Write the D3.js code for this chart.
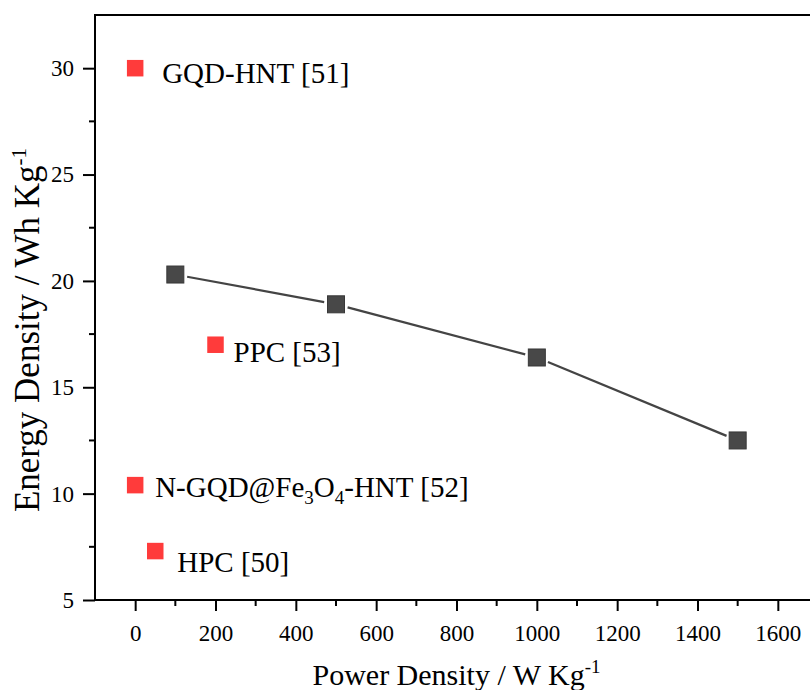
<!DOCTYPE html>
<html><head><meta charset="utf-8">
<script src="https://cdn.jsdelivr.net/npm/d3@7"></script>
<style>
html,body{margin:0;padding:0;background:#fff;}
svg{display:block;}
svg text{font-family:"Liberation Serif","DejaVu Serif",serif !important;fill:#000;}
</style></head>
<body>
<svg id="chart" width="810" height="690"></svg>
<script>
// ---- data ----
const seriesPower = [100, 500, 1000, 1500];
const seriesEnergy = [20.3, 18.9, 16.4, 12.5];
const refNames = ["GQD-HNT [51]", "PPC [53]", "N-GQD@Fe3O4-HNT [52]", "HPC [50]"];
const refPower = [0, 200, 0, 50];
const refEnergy = [30, 17, 10.4, 7.3];
const xTicks = [0, 200, 400, 600, 800, 1000, 1200, 1400, 1600];
const yTicks = [5, 10, 15, 20, 25, 30];
const xTitle = "Power Density / W Kg";
const yTitle = "Energy Density / Wh Kg";

// ---- layout ----
const svg = d3.select("#chart");
const L = 95, T = 15, B = 600, R = 818;
const x = d3.scaleLinear().domain([-100, 1700]).range([L, R]);
const y = d3.scaleLinear().domain([5, 32.5]).range([B, T]);
const serif = "'Liberation Serif', 'DejaVu Serif', serif";

// frame (top/right border)
svg.append("rect").attr("x", L).attr("y", T).attr("width", R - L).attr("height", B - T)
  .attr("fill", "none").attr("stroke", "#000").attr("stroke-width", 2);

// minor ticks
const xMinor = d3.range(-100, 1701, 100).filter(v => !xTicks.includes(v) && v > -100 && v < 1700);
const yMinor = d3.range(7.5, 32.5, 5);
svg.append("g").selectAll("line").data(xMinor).join("line")
  .attr("x1", d => x(d)).attr("x2", d => x(d)).attr("y1", B).attr("y2", B + 6)
  .attr("stroke", "#000").attr("stroke-width", 2);
svg.append("g").selectAll("line").data(yMinor).join("line")
  .attr("y1", d => y(d)).attr("y2", d => y(d)).attr("x1", L).attr("x2", L - 6)
  .attr("stroke", "#000").attr("stroke-width", 2);

// major axes
const xAxis = svg.append("g").attr("transform", `translate(0,${B})`)
  .call(d3.axisBottom(x).tickValues(xTicks).tickSize(11).tickPadding(14).tickFormat(d3.format("d")));
const yAxis = svg.append("g").attr("transform", `translate(${L},0)`)
  .call(d3.axisLeft(y).tickValues(yTicks).tickSize(12).tickPadding(9).tickFormat(d3.format("d")));
[xAxis, yAxis].forEach(a => {
  a.attr("font-family", null).attr("font-size", null);
  a.select(".domain").remove();
  a.selectAll("line").attr("stroke", "#000").attr("stroke-width", 2);
  a.selectAll("text").style("font-size", "23px").style("font-family", serif).attr("fill", "#000");
});
// axis lines
svg.append("line").attr("x1", L).attr("x2", R).attr("y1", B).attr("y2", B).attr("stroke", "#000").attr("stroke-width", 2);
svg.append("line").attr("x1", L).attr("x2", L).attr("y1", T).attr("y2", B + 1).attr("stroke", "#000").attr("stroke-width", 2);

// series line with gaps near markers
const pts = seriesPower.map((p, i) => [x(p), y(seriesEnergy[i])]);
const gap = 12;
for (let i = 0; i < pts.length - 1; i++) {
  const [x1, y1] = pts[i], [x2, y2] = pts[i + 1];
  const len = Math.hypot(x2 - x1, y2 - y1), ux = (x2 - x1) / len, uy = (y2 - y1) / len;
  svg.append("line").attr("x1", x1 + ux * gap).attr("y1", y1 + uy * gap)
    .attr("x2", x2 - ux * gap).attr("y2", y2 - uy * gap)
    .attr("stroke", "#444").attr("stroke-width", 2.2);
}
const ms = 17;
svg.append("g").selectAll("rect").data(pts).join("rect")
  .attr("x", d => d[0] - ms / 2).attr("y", d => d[1] - ms / 2)
  .attr("width", ms).attr("height", ms)
  .attr("fill", "#484848").attr("stroke", "#383838").attr("stroke-width", 1);

// reference points
const rs = 16.5;
const refIdx = d3.range(refNames.length);
svg.append("g").selectAll("rect").data(refIdx).join("rect")
  .attr("x", i => x(refPower[i]) - rs / 2).attr("y", i => y(refEnergy[i]) - rs / 2)
  .attr("width", rs).attr("height", rs).attr("fill", "#ff3b3b");

// label offsets (style)
const labelOff = [[27, 15], [18, 17], [20, 12], [22, 21]];
refIdx.forEach(i => {
  const t = svg.append("text").attr("x", x(refPower[i]) + labelOff[i][0])
    .attr("y", y(refEnergy[i]) + labelOff[i][1]).style("font-size", "29px");
  const name = refNames[i];
  const m = name.match(/^(.*Fe)3(O)4(.*)$/);
  if (m) {
    t.append("tspan").text(m[1]);
    t.append("tspan").text("3").style("font-size", "19px").attr("dy", 7);
    t.append("tspan").text(m[2]).attr("dy", -7);
    t.append("tspan").text("4").style("font-size", "19px").attr("dy", 7);
    t.append("tspan").text(m[3]).attr("dy", -7);
  } else {
    t.text(name);
  }
});

// axis titles
const xt = svg.append("text").attr("x", (L + R) / 2).attr("y", 685)
  .attr("text-anchor", "middle").style("font-size", "30px");
xt.append("tspan").text(xTitle);
xt.append("tspan").text("-1").style("font-size", "19px").attr("dy", -12);

const yt = svg.append("text").attr("transform", `translate(39,330) rotate(-90)`)
  .attr("text-anchor", "middle").style("font-size", "35px");
yt.append("tspan").text(yTitle);
yt.append("tspan").text("-1").style("font-size", "21px").attr("dy", -13);
</script>
</body></html>
